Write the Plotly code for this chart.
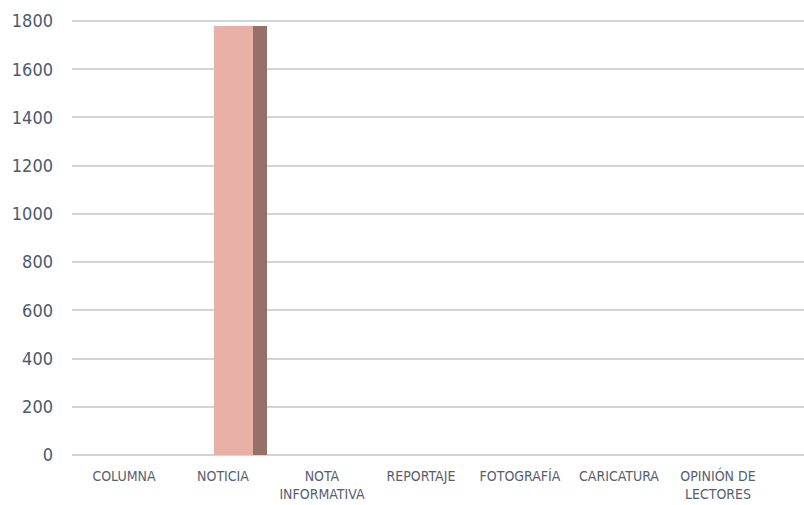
import plotly.graph_objects as go

categories = ["COLUMNA", "NOTICIA", "NOTA<br>INFORMATIVA", "REPORTAJE", "FOTOGRAFÍA", "CARICATURA", "OPINIÓN DE<br>LECTORES"]
values = [0, 1780, 0, 0, 0, 0, 0]
y_ticks = [0, 200, 400, 600, 800, 1000, 1200, 1400, 1600, 1800]

idx = list(range(len(categories)))
front_off, front_w = 0.106, 0.394
side_off, side_w = 0.373, 0.138

fig = go.Figure()
fig.add_trace(go.Bar(x=[i + front_off for i in idx], y=values, width=front_w,
                     marker=dict(color="#e8b0a7", line=dict(width=0)), showlegend=False))
fig.add_trace(go.Bar(x=[i + side_off for i in idx], y=values, width=side_w,
                     marker=dict(color="#95716a", line=dict(width=0)), showlegend=False))

px_per_unit = 434 / 1800
fig.update_layout(
    width=804, height=505,
    margin=dict(l=72, r=0, t=15, b=45),
    paper_bgcolor="white", plot_bgcolor="white",
    barmode="overlay", bargap=0,
    xaxis=dict(range=[-0.525, 6.869], tickvals=idx, ticktext=categories, automargin=False,
               showgrid=False, zeroline=False, showline=False, ticks="", ticklabelstandoff=6,
               tickfont=dict(family="DejaVu Sans Condensed", size=14, color="#56606e")),
    yaxis=dict(range=[-5 / px_per_unit, 1800 + 6 / px_per_unit], tickvals=y_ticks, automargin=False,
               showgrid=True, gridcolor="#d2d4d8", gridwidth=2, zeroline=False,
               showline=False, ticks="", ticklabelstandoff=18,
               tickfont=dict(family="DejaVu Sans Condensed", size=18, color="#4b5a6e")),
)
fig.write_html("out.html", config={"displayModeBar": False},
               post_script="document.body.style.margin='0';document.body.style.overflow='hidden';")
